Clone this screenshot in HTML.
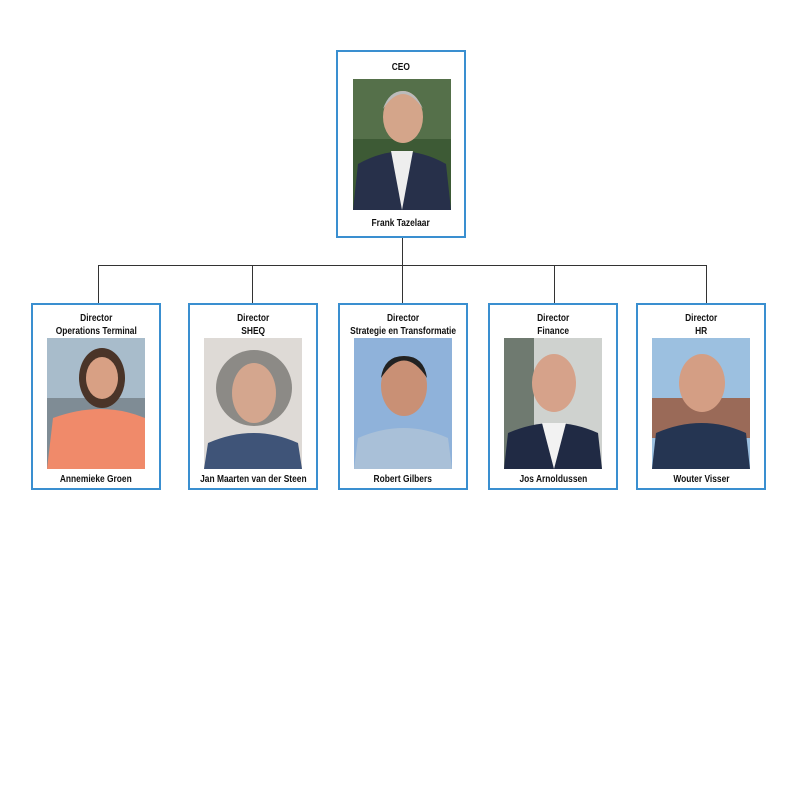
<!DOCTYPE html>
<html><head><meta charset="utf-8"><style>
body{margin:0;width:800px;height:800px;background:#fff;position:relative;font-family:"Liberation Sans",sans-serif;font-weight:bold;font-size:10px;color:#111;overflow:hidden}
.box{position:absolute;border:2px solid #3a8fd0;box-sizing:border-box;background:#fff;text-align:center;line-height:13px}
.t{position:absolute;left:-20px;right:-20px;white-space:nowrap}
.t span{display:inline-block;transform:scaleX(.84)}
.ph{position:absolute;overflow:hidden}
.ln{position:absolute;background:#333}
</style></head><body>
<div class="ln" style="left:402px;top:236px;width:1px;height:30px"></div>
<div class="ln" style="left:98px;top:265px;width:609px;height:1px"></div>
<div class="ln" style="left:98px;top:265px;width:1px;height:39px"></div>
<div class="ln" style="left:252px;top:265px;width:1px;height:39px"></div>
<div class="ln" style="left:402px;top:265px;width:1px;height:39px"></div>
<div class="ln" style="left:554px;top:265px;width:1px;height:39px"></div>
<div class="ln" style="left:706px;top:265px;width:1px;height:39px"></div>

<div class="box" style="left:336px;top:50px;width:130px;height:188px">
<div class="t" style="top:9px"><span>CEO</span></div>
<svg class="ph" style="left:15px;top:27px" width="98" height="131"><rect width="98" height="131" fill="#3d5a35"/><rect x="0" y="0" width="98" height="60" fill="#55704a"/><path d="M0 131 L5 85 Q49 60 93 85 L98 131Z" fill="#27304a"/><path d="M38 72 L49 131 L60 72Z" fill="#eee"/><ellipse cx="50" cy="38" rx="20" ry="26" fill="#d4a58a"/><path d="M30 30 Q50 0 70 30 Q62 12 50 12 Q36 12 30 30Z" fill="#bbb"/></svg>
<div class="t" style="top:165px"><span>Frank Tazelaar</span></div>
</div>

<div class="box" style="left:31px;top:303px;width:130px;height:187px">
<div class="t" style="top:7px"><span>Director<br>Operations Terminal</span></div>
<svg class="ph" style="left:14px;top:33px" width="98" height="131"><rect width="98" height="131" fill="#a8bccb"/><rect y="60" width="98" height="71" fill="#7f8c95"/><ellipse cx="55" cy="40" rx="23" ry="30" fill="#4a3428"/><path d="M0 131 L6 80 Q55 62 98 80 L98 131Z" fill="#f08a6a"/><ellipse cx="55" cy="40" rx="16" ry="21" fill="#d8a084"/></svg>
<div class="t" style="top:168px"><span>Annemieke Groen</span></div>
</div>

<div class="box" style="left:188px;top:303px;width:130px;height:187px">
<div class="t" style="top:7px"><span>Director<br>SHEQ</span></div>
<svg class="ph" style="left:14px;top:33px" width="98" height="131"><rect width="98" height="131" fill="#dedad6"/><ellipse cx="50" cy="50" rx="38" ry="38" fill="#8c8a86"/><path d="M0 131 L4 105 Q50 85 94 105 L98 131Z" fill="#3f5478"/><ellipse cx="50" cy="55" rx="22" ry="30" fill="#d4a68e"/></svg>
<div class="t" style="top:168px"><span>Jan Maarten van der Steen</span></div>
</div>

<div class="box" style="left:338px;top:303px;width:130px;height:187px">
<div class="t" style="top:7px"><span>Director<br>Strategie en Transformatie</span></div>
<svg class="ph" style="left:14px;top:33px" width="98" height="131"><rect width="98" height="131" fill="#8fb2da"/><path d="M0 131 L4 100 Q50 80 94 100 L98 131Z" fill="#a9c0d8"/><ellipse cx="50" cy="48" rx="23" ry="30" fill="#c99075"/><path d="M27 40 Q50 5 73 40 Q70 18 50 18 Q30 18 27 40Z" fill="#222"/></svg>
<div class="t" style="top:168px"><span>Robert Gilbers</span></div>
</div>

<div class="box" style="left:488px;top:303px;width:130px;height:187px">
<div class="t" style="top:7px"><span>Director<br>Finance</span></div>
<svg class="ph" style="left:14px;top:33px" width="98" height="131"><rect width="98" height="131" fill="#cfd2cf"/><rect width="30" height="131" fill="#6f7a70"/><path d="M0 131 L4 95 Q50 75 94 95 L98 131Z" fill="#202a44"/><path d="M38 85 L50 131 L62 85Z" fill="#f2f2f2"/><ellipse cx="50" cy="45" rx="22" ry="29" fill="#d6a28a"/></svg>
<div class="t" style="top:168px"><span>Jos Arnoldussen</span></div>
</div>

<div class="box" style="left:636px;top:303px;width:130px;height:187px">
<div class="t" style="top:7px"><span>Director<br>HR</span></div>
<svg class="ph" style="left:14px;top:33px" width="98" height="131"><rect width="98" height="131" fill="#9cc0e0"/><rect y="60" width="98" height="40" fill="#9a6a58"/><path d="M0 131 L4 95 Q50 75 94 95 L98 131Z" fill="#253552"/><ellipse cx="50" cy="45" rx="23" ry="29" fill="#d49e84"/></svg>
<div class="t" style="top:168px"><span>Wouter Visser</span></div>
</div>
</body></html>
